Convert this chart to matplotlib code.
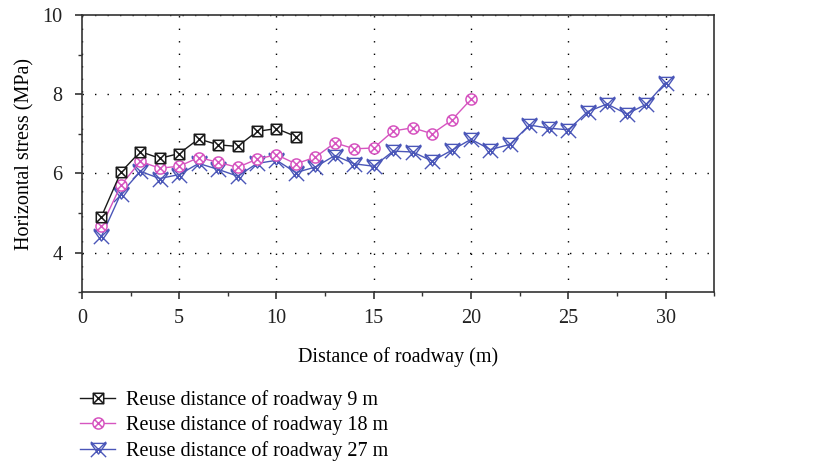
import numpy as np
import matplotlib
matplotlib.use("Agg")
import matplotlib.pyplot as plt
from matplotlib.path import Path
from matplotlib.ticker import MultipleLocator

plt.rcParams['font.family'] = ['Liberation Serif', 'DejaVu Serif']

# horizontal stress along the roadway for three reuse distances
dist_9 = [1, 2, 3, 4, 5, 6, 7, 8, 9, 10, 11]
stress_9 = [4.91, 6.03, 6.55, 6.38, 6.50, 6.87, 6.72, 6.68, 7.06, 7.13, 6.93]

dist_18 = list(range(1, 21))
stress_18 = [4.66, 5.70, 6.30, 6.13, 6.18, 6.40, 6.28, 6.15, 6.36, 6.47,
             6.24, 6.41, 6.77, 6.62, 6.64, 7.07, 7.15, 7.00, 7.34, 7.87]

dist_27 = list(range(1, 31))
stress_27 = [4.41, 5.49, 6.05, 5.87, 5.97, 6.25, 6.10, 5.93, 6.25, 6.33,
             6.02, 6.16, 6.45, 6.24, 6.18, 6.56, 6.54, 6.31, 6.58, 6.86,
             6.60, 6.73, 7.22, 7.14, 7.10, 7.56, 7.75, 7.50, 7.74, 8.29]

labels = ['Reuse distance of roadway 9 m',
          'Reuse distance of roadway 18 m',
          'Reuse distance of roadway 27 m']

# marker shapes: boxed cross, circled cross, cross under a down-triangle
M, L = Path.MOVETO, Path.LINETO
box_x = Path([(-1, -1), (1, -1), (1, 1), (-1, 1), (-1, -1),
              (-1, -1), (1, 1), (-1, 1), (1, -1)],
             [M, L, L, L, L, M, L, M, L])
circ = Path.unit_circle()
d = 0.7
circ_x = Path(np.vstack([circ.vertices, [[-d, -d], [d, d], [-d, d], [d, -d]]]),
              np.concatenate([circ.codes, [M, L, M, L]]))
tri_x = Path([(-1, 0.8), (1, 0.8), (0, -0.6), (-1, 0.8),
              (-1, 1), (1, -1), (-1, -1), (1, 1)],
             [M, L, L, L, M, L, M, L])

fig = plt.figure(figsize=(8.34, 4.66), dpi=100)
ax = fig.add_axes([0.0983, 0.373, 0.758, 0.595])

ax.plot(dist_9, stress_9, color='#1a1a1a', lw=1.0, marker=box_x,
        ms=7.5, mfc='white', mec='#1a1a1a', mew=1.1, label=labels[0], zorder=5)
ax.plot(dist_18, stress_18, color='#d655c0', lw=1.0, marker=circ_x,
        ms=8, mfc='white', mec='#d655c0', mew=1.1, label=labels[1], zorder=4)
ax.plot(dist_27, stress_27, color='#4a56b8', lw=1.0, marker=tri_x,
        ms=11, mfc='none', mec='#4a56b8', mew=1.0, label=labels[2], zorder=3)

ax.set_xlim(0, 32.5)
ax.set_ylim(3, 10)
ax.xaxis.set_major_locator(MultipleLocator(5))
ax.xaxis.set_minor_locator(MultipleLocator(2.5))
ax.yaxis.set_major_locator(MultipleLocator(2))
ax.yaxis.set_minor_locator(MultipleLocator(1))
ax.set_yticks([4, 6, 8, 10])

ax.grid(True, which='major', color='black', lw=1.0, linestyle=(0, (1, 8)))
for s in ax.spines.values():
    s.set_linewidth(1.2)
    s.set_color('#333333')
ax.tick_params(which='major', direction='out', length=5, width=1.2,
               labelsize=14.5, colors='#333333', labelcolor='#222222')
ax.tick_params(axis='x', which='major', pad=7)
ax.tick_params(axis='y', which='major', pad=9)
ax.tick_params(which='minor', direction='out', length=3, width=1.0,
               colors='#333333')

ax.set_xlabel('Distance of roadway (m)', fontsize=14.5, labelpad=14)
ax.set_ylabel('Horizontal stress (MPa)', fontsize=14.5, labelpad=6)

fig.legend(loc='upper left', bbox_to_anchor=(0.096, 0.163), frameon=False,
           fontsize=14.5, handlelength=1.75, handletextpad=0.55,
           labelspacing=0.28, borderaxespad=0, borderpad=0)

fig.savefig('out.png', dpi=100)
